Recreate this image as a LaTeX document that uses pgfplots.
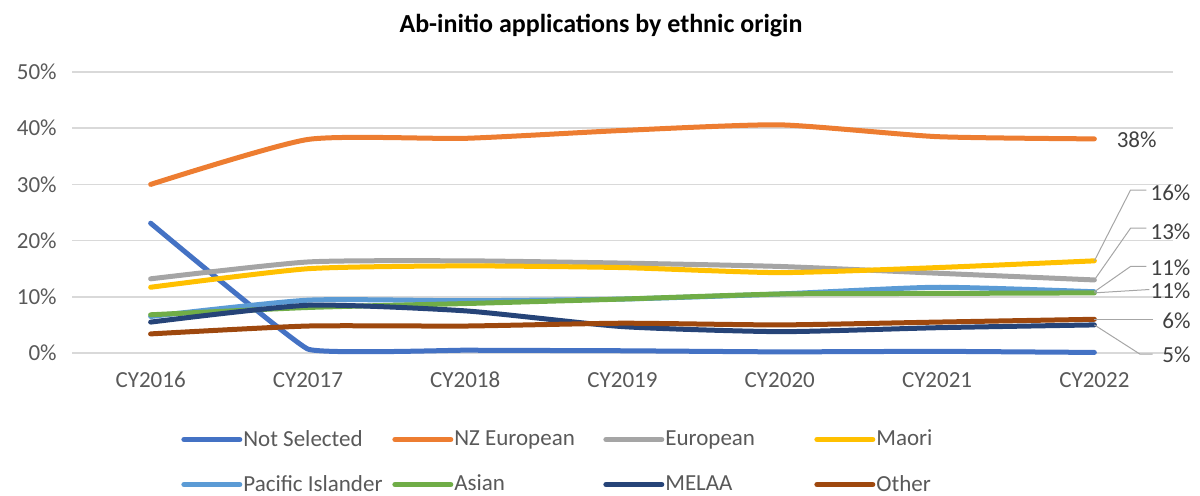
\documentclass[border=0pt]{standalone}
\usepackage{pgfplots}
\pgfplotsset{compat=1.18}
\usepackage{fontspec}
\setmainfont{Carlito}
\definecolor{cNS}{HTML}{4472C4}
\definecolor{cNZ}{HTML}{ED7D31}
\definecolor{cEU}{HTML}{A5A5A5}
\definecolor{cMA}{HTML}{FFC000}
\definecolor{cPI}{HTML}{5B9BD5}
\definecolor{cAS}{HTML}{70AD47}
\definecolor{cME}{HTML}{264478}
\definecolor{cOT}{HTML}{9E480E}
\definecolor{gridgray}{HTML}{D9D9D9}
\definecolor{ticktext}{HTML}{595959}
\definecolor{labtext}{HTML}{404040}
\definecolor{leader}{HTML}{A6A6A6}
\newcommand{\lgbox}[1]{\makebox[74pt][l]{#1}}
\begin{document}
\begin{tikzpicture}
\useasboundingbox (0,0) rectangle (600pt,247.5pt);
\node[font=\fontsize{13}{15}\selectfont\bfseries, text=black] at (300.5pt,234.5pt) {Ab-initio applications by ethnic origin};
\begin{axis}[
  at={(36pt,71pt)}, anchor=south west,
  scale only axis, width=550.5pt, height=140.5pt,
  xmin=-0.5, xmax=6.5, ymin=0, ymax=50,
  xtick={0,1,2,3,4,5,6},
  xticklabels={CY2016,CY2017,CY2018,CY2019,CY2020,CY2021,CY2022},
  ytick={0,10,20,30,40,50},
  yticklabels={0\%,10\%,20\%,30\%,40\%,50\%},
  axis line style={draw=none},
  major tick length=0pt,
  ymajorgrids, grid style={color=gridgray, line width=0.75pt},
  ticklabel style={font=\fontsize{11.5}{13}\selectfont, text=ticktext},
  xticklabel style={anchor=center, inner sep=0pt, yshift=-13.5pt},
  yticklabel style={anchor=east, inner sep=0pt, xshift=-7.5pt},
  clip=false,
  every axis plot/.append style={line width=2.5pt, smooth, tension=0.35, line cap=round, line join=round, no markers},
  legend columns=4,
  legend image code/.code={\draw[#1, line width=2.5pt, line cap=round] (0pt,0pt) -- (28pt,0pt);},
  legend style={draw=none, fill=none, at={(0.0935,-0.255)}, anchor=north west,
    font=\fontsize{11.5}{13}\selectfont, text=ticktext,
    nodes={inner sep=0.5pt},
    /tikz/every even column/.append style={column sep=0pt},
    row sep=12pt},
  legend cell align=left,
]
\addplot[cNS, tension=0.15] coordinates {(0,23.1) (1,0.7) (2,0.5) (3,0.4) (4,0.2) (5,0.3) (6,0.1)};
\addlegendentry{\lgbox{Not Selected}}
\addplot[cNZ] coordinates {(0,30.0) (1,38.0) (2,38.2) (3,39.6) (4,40.6) (5,38.5) (6,38.1)};
\addlegendentry{\lgbox{NZ European}}
\addplot[cEU] coordinates {(0,13.2) (1,16.2) (2,16.4) (3,16.0) (4,15.4) (5,14.2) (6,13.0)};
\addlegendentry{\lgbox{European}}
\addplot[cMA] coordinates {(0,11.7) (1,15.0) (2,15.5) (3,15.2) (4,14.3) (5,15.2) (6,16.4)};
\addlegendentry{\lgbox{Maori}}
\addplot[cPI] coordinates {(0,6.5) (1,9.4) (2,9.3) (3,9.6) (4,10.5) (5,11.7) (6,10.9)};
\addlegendentry{\lgbox{Pacific Islander}}
\addplot[cAS] coordinates {(0,6.8) (1,8.1) (2,8.8) (3,9.6) (4,10.5) (5,10.6) (6,10.7)};
\addlegendentry{\lgbox{Asian}}
\addplot[cME] coordinates {(0,5.5) (1,8.5) (2,7.5) (3,4.7) (4,3.8) (5,4.5) (6,5.0)};
\addlegendentry{\lgbox{MELAA}}
\addplot[cOT] coordinates {(0,3.4) (1,4.8) (2,4.8) (3,5.3) (4,5.0) (5,5.5) (6,6.0)};
\addlegendentry{\lgbox{Other}}
% leader lines
\draw[leader, line width=0.5pt] (axis cs:6,16.4) -- (axis cs:6.23,29.0) -- (axis cs:6.33,29.0);
\draw[leader, line width=0.5pt] (axis cs:6,13.0) -- (axis cs:6.23,22.2) -- (axis cs:6.33,22.2);
\draw[leader, line width=0.5pt] (axis cs:6,10.9) -- (axis cs:6.23,15.4) -- (axis cs:6.33,15.4);
\draw[leader, line width=0.5pt] (axis cs:6,10.7) -- (axis cs:6.35,11.3);
\draw[leader, line width=0.5pt] (axis cs:6,6.0) -- (axis cs:6.37,6.0);
\draw[leader, line width=0.5pt] (axis cs:6,5.0) -- (axis cs:6.29,-0.2) -- (axis cs:6.37,-0.2);
% data labels
\begin{scope}[every node/.style={font=\fontsize{11.5}{13}\selectfont, text=labtext, inner sep=0pt, anchor=west}]
\node at (axis cs:6.14,37.9) {38\%};
\node at (axis cs:6.355,28.6) {16\%};
\node at (axis cs:6.355,21.6) {13\%};
\node at (axis cs:6.355,15.1) {11\%};
\node at (axis cs:6.355,11.1) {11\%};
\node at (axis cs:6.43,5.75) {6\%};
\node at (axis cs:6.43,-0.36) {5\%};
\end{scope}
\end{axis}
\end{tikzpicture}
\end{document}
